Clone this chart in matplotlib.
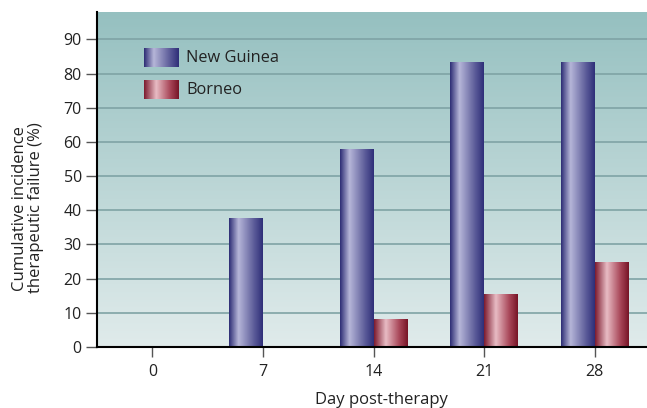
import matplotlib
matplotlib.use('Agg')
import matplotlib.pyplot as plt
from matplotlib.colors import LinearSegmentedColormap
import numpy as np

days = [0, 7, 14, 21, 28]
new_guinea = [0, 37.5, 57.7, 83.3, 83.3]
borneo = [0, 0, 7.9, 15.3, 24.6]
series_names = ["New Guinea", "Borneo"]

plt.rcParams['font.family'] = ['Open Sans', 'DejaVu Sans']
plt.rcParams['font.size'] = 10

ng_cmap = LinearSegmentedColormap.from_list(
    "ng", [(0, "#2c2c74"), (0.28, "#b6b6d8"), (0.75, "#5a5a98"), (1, "#2e2e78")])
bo_cmap = LinearSegmentedColormap.from_list(
    "bo", [(0, "#7c1a2e"), (0.35, "#e8bcc4"), (0.75, "#a84658"), (1, "#761426")])
bg_cmap = LinearSegmentedColormap.from_list("bg", ["#e0ebeb", "#95c0c0"])

fig = plt.figure(figsize=(6.47, 4.08), dpi=100)
ax = fig.add_axes([0.150, 0.1495, 0.850, 0.8211])

grad = np.linspace(0, 1, 256).reshape(1, -1)
vgrad = np.linspace(0, 1, 256).reshape(-1, 1)

# background gradient
ax.imshow(vgrad, cmap=bg_cmap, aspect='auto', origin='lower',
          extent=[0, 1, 0, 1], transform=ax.transAxes, zorder=0)

width = 2.15
bars_ng = ax.bar(np.array(days) - width / 2, new_guinea, width, facecolor='none',
                 edgecolor='none', zorder=3)
bars_bo = ax.bar(np.array(days) + width / 2, borneo, width, facecolor='none',
                 edgecolor='none', zorder=3)

for bars, cmap in [(bars_ng, ng_cmap), (bars_bo, bo_cmap)]:
    for b in bars:
        if b.get_height() <= 0:
            continue
        x0 = b.get_x()
        ax.imshow(grad, cmap=cmap, aspect='auto',
                  extent=[x0, x0 + b.get_width(), 0, b.get_height()], zorder=3)

ax.set_yticks(range(0, 100, 10))
ax.set_xticks(days)
ax.yaxis.grid(True, color='#7fa3a5', linewidth=1.2, zorder=1)
ax.set_axisbelow(True)
for s in ['top', 'right']:
    ax.spines[s].set_visible(False)
ax.spines['left'].set_linewidth(1.5)
ax.spines['bottom'].set_linewidth(1.5)
ax.spines['left'].set_zorder(5)
ax.spines['bottom'].set_zorder(5)
ax.tick_params(axis='y', direction='out', length=8, width=1, color='#555555',
               labelsize=11.5, labelcolor='#222222', pad=3)
ax.tick_params(axis='x', direction='out', length=7, width=1, color='#555555',
               labelsize=11.5, labelcolor='#222222', pad=5)

# legend drawn as gradient swatches
for i, (name, cmap) in enumerate(zip(series_names, [ng_cmap, bo_cmap])):
    y0 = 0.835 - i * 0.095
    ax.imshow(grad, cmap=cmap, aspect='auto',
              extent=[0.085, 0.147, y0, y0 + 0.055], transform=ax.transAxes, zorder=4)
    ax.text(0.162, y0 + 0.027, name, transform=ax.transAxes, fontsize=11.8,
            va='center', ha='left', color='#222222', zorder=4)

ax.set_xlim(-3.5, 31.3)
ax.set_ylim(0, 98)

fig.text(0.589, 0.0, "Day post-therapy", ha='center', va='bottom', fontsize=12,
         color='#222222')
fig.text(0.044, 0.49, "Cumulative incidence\ntherapeutic failure (%)", rotation=90,
         ha='center', va='center', fontsize=12, color='#222222', linespacing=1.0)

fig.savefig('out.png', dpi=100)
